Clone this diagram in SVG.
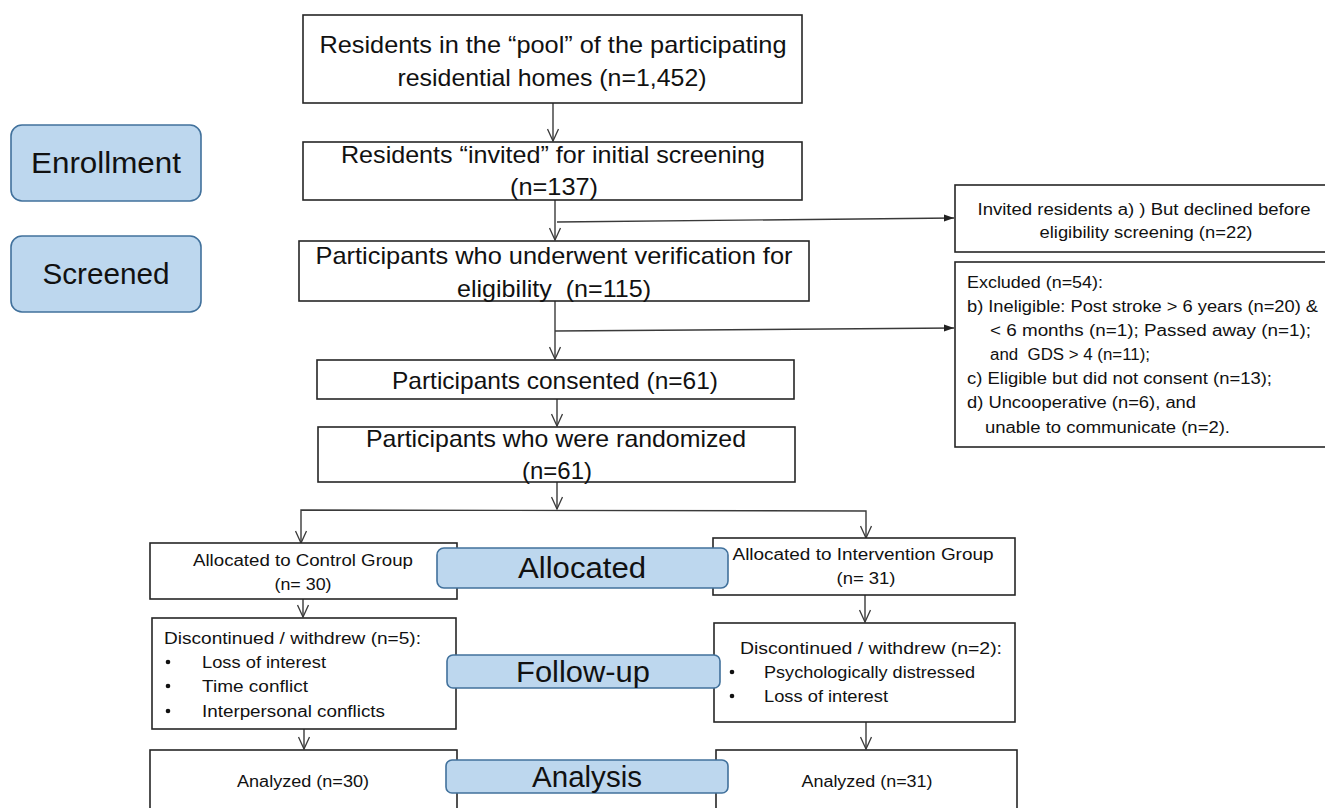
<svg xmlns="http://www.w3.org/2000/svg" width="1325" height="808" viewBox="0 0 1325 808">
<style>
.box{fill:#fff;stroke:#262626;stroke-width:1.6}
.lbl{fill:#BDD7EE;stroke:#41719C;stroke-width:1.6}
.t{font-family:"Liberation Sans",Arial,sans-serif;fill:#111;white-space:pre}
.big{font-size:24px}
.sm{font-size:16px}
.lab{font-size:29px}
.c{text-anchor:middle}
.ln{fill:none;stroke:#3a3a3a;stroke-width:1.4}
</style>
<defs>
<marker id="v" viewBox="0 0 14 12" refX="13" refY="6" markerWidth="14" markerHeight="12" markerUnits="userSpaceOnUse" orient="auto-start-reverse">
<path d="M1,0.5 L13,6 L1,11.5" fill="none" stroke="#3a3a3a" stroke-width="1.3"/>
</marker>
<marker id="f" viewBox="0 0 10 8" refX="10" refY="4" markerWidth="10" markerHeight="8" markerUnits="userSpaceOnUse" orient="auto">
<path d="M0,0.5 L10,4 L0,7.5 Z" fill="#222"/>
</marker>
</defs>

<g id="connectors">
<line class="ln" x1="553" y1="103" x2="553" y2="141" marker-end="url(#v)"/>
<line class="ln" x1="555" y1="200" x2="555" y2="240" marker-end="url(#v)"/>
<line class="ln" x1="557" y1="222" x2="954" y2="218" marker-end="url(#f)"/>
<line class="ln" x1="555" y1="301" x2="555" y2="359" marker-end="url(#v)"/>
<line class="ln" x1="555" y1="331" x2="954" y2="328" marker-end="url(#f)"/>
<line class="ln" x1="557" y1="399" x2="557" y2="426" marker-end="url(#v)"/>
<line class="ln" x1="557" y1="482" x2="557" y2="509" marker-end="url(#v)"/>
<polyline class="ln" points="301,543 301,510 866,511 866,538" marker-start="url(#v)" marker-end="url(#v)"/>
<line class="ln" x1="303" y1="599" x2="303" y2="617" marker-end="url(#v)"/>
<line class="ln" x1="865" y1="595" x2="865" y2="622" marker-end="url(#v)"/>
<line class="ln" x1="304" y1="729" x2="304" y2="749" marker-end="url(#v)"/>
<line class="ln" x1="866" y1="722" x2="866" y2="749" marker-end="url(#v)"/>
</g>

<g id="pool">
<rect class="box" x="303" y="15" width="499" height="88"/>
<text class="t big c" x="553" y="53" textLength="467" lengthAdjust="spacingAndGlyphs">Residents in the “pool” of the participating</text>
<text class="t big c" x="552" y="86" textLength="309" lengthAdjust="spacingAndGlyphs">residential homes (n=1,452)</text>
</g>

<g id="invited">
<rect class="box" x="303" y="142" width="499" height="58"/>
<text class="t big c" x="553" y="163" textLength="424" lengthAdjust="spacingAndGlyphs">Residents “invited” for initial screening</text>
<text class="t big c" x="554" y="195" textLength="88" lengthAdjust="spacingAndGlyphs">(n=137)</text>
</g>

<g id="enrollment">
<rect class="lbl" x="11" y="125" width="190" height="76" rx="11"/>
<text class="t lab c" x="106" y="173" textLength="150" lengthAdjust="spacingAndGlyphs">Enrollment</text>
</g>

<g id="screened">
<rect class="lbl" x="11" y="236" width="190" height="76" rx="11"/>
<text class="t lab c" x="106" y="284" textLength="127" lengthAdjust="spacingAndGlyphs">Screened</text>
</g>

<g id="verification">
<rect class="box" x="299" y="241" width="510" height="60"/>
<text class="t big c" x="554" y="264" textLength="477" lengthAdjust="spacingAndGlyphs">Participants who underwent verification for</text>
<text class="t big c" x="554" y="297" textLength="194" lengthAdjust="spacingAndGlyphs">eligibility  (n=115)</text>
</g>

<g id="declined">
<rect class="box" x="955" y="185" width="375" height="67"/>
<text class="t sm c" x="1144" y="215" textLength="333" lengthAdjust="spacingAndGlyphs">Invited residents a) ) But declined before</text>
<text class="t sm c" x="1146" y="238" textLength="213" lengthAdjust="spacingAndGlyphs">eligibility screening (n=22)</text>
</g>

<g id="excluded">
<rect class="box" x="955" y="262" width="375" height="185"/>
<text class="t sm" x="967" y="288" textLength="136" lengthAdjust="spacingAndGlyphs">Excluded (n=54):</text>
<text class="t sm" x="967" y="312" textLength="351" lengthAdjust="spacingAndGlyphs">b) Ineligible: Post stroke &gt; 6 years (n=20) &amp;</text>
<text class="t sm" x="990" y="336" textLength="321" lengthAdjust="spacingAndGlyphs">&lt; 6 months (n=1); Passed away (n=1);</text>
<text class="t sm" x="990" y="360" textLength="160" lengthAdjust="spacingAndGlyphs">and  GDS &gt; 4 (n=11);</text>
<text class="t sm" x="967" y="384" textLength="305" lengthAdjust="spacingAndGlyphs">c) Eligible but did not consent (n=13);</text>
<text class="t sm" x="967" y="408" textLength="229" lengthAdjust="spacingAndGlyphs">d) Uncooperative (n=6), and</text>
<text class="t sm" x="985" y="433" textLength="245" lengthAdjust="spacingAndGlyphs">unable to communicate (n=2).</text>
</g>

<g id="consented">
<rect class="box" x="317" y="360" width="477" height="39"/>
<text class="t big c" x="555" y="389" textLength="326" lengthAdjust="spacingAndGlyphs">Participants consented (n=61)</text>
</g>

<g id="randomized">
<rect class="box" x="318" y="427" width="477" height="55"/>
<text class="t big c" x="556" y="447" textLength="380" lengthAdjust="spacingAndGlyphs">Participants who were randomized</text>
<text class="t big c" x="557" y="479" textLength="70" lengthAdjust="spacingAndGlyphs">(n=61)</text>
</g>

<g id="control">
<rect class="box" x="150" y="543" width="307" height="56"/>
<text class="t sm c" x="303" y="566" textLength="220" lengthAdjust="spacingAndGlyphs">Allocated to Control Group</text>
<text class="t sm c" x="303" y="590" textLength="57" lengthAdjust="spacingAndGlyphs">(n= 30)</text>
</g>

<g id="intervention">
<rect class="box" x="713" y="538" width="302" height="57"/>
<text class="t sm c" x="863" y="560" textLength="261" lengthAdjust="spacingAndGlyphs">Allocated to Intervention Group</text>
<text class="t sm c" x="866" y="584" textLength="59" lengthAdjust="spacingAndGlyphs">(n= 31)</text>
</g>

<g id="allocated">
<rect class="lbl" x="437" y="548" width="291" height="40" rx="7"/>
<text class="t lab c" x="582" y="578" textLength="128" lengthAdjust="spacingAndGlyphs">Allocated</text>
</g>

<g id="discontinued-control">
<rect class="box" x="152" y="618" width="304" height="111"/>
<text class="t sm" x="164" y="644" textLength="257" lengthAdjust="spacingAndGlyphs">Discontinued / withdrew (n=5):</text>
<circle cx="168" cy="662" r="2.3" fill="#111"/>
<text class="t sm" x="202" y="668" textLength="124" lengthAdjust="spacingAndGlyphs">Loss of interest</text>
<circle cx="168" cy="686" r="2.3" fill="#111"/>
<text class="t sm" x="202" y="692" textLength="106" lengthAdjust="spacingAndGlyphs">Time conflict</text>
<circle cx="168" cy="711" r="2.3" fill="#111"/>
<text class="t sm" x="202" y="717" textLength="183" lengthAdjust="spacingAndGlyphs">Interpersonal conflicts</text>
</g>

<g id="discontinued-intervention">
<rect class="box" x="714" y="623" width="301" height="99"/>
<text class="t sm" x="740" y="654" textLength="262" lengthAdjust="spacingAndGlyphs">Discontinued / withdrew (n=2):</text>
<circle cx="732" cy="672" r="2.3" fill="#111"/>
<text class="t sm" x="764" y="678" textLength="211" lengthAdjust="spacingAndGlyphs">Psychologically distressed</text>
<circle cx="732" cy="696" r="2.3" fill="#111"/>
<text class="t sm" x="764" y="702" textLength="124" lengthAdjust="spacingAndGlyphs">Loss of interest</text>
</g>

<g id="followup">
<rect class="lbl" x="447" y="655" width="273" height="33" rx="6"/>
<text class="t lab c" x="583" y="682" textLength="134" lengthAdjust="spacingAndGlyphs">Follow-up</text>
</g>

<g id="analyzed-control">
<rect class="box" x="150" y="750" width="307" height="70"/>
<text class="t sm c" x="303" y="787" textLength="132" lengthAdjust="spacingAndGlyphs">Analyzed (n=30)</text>
</g>

<g id="analyzed-intervention">
<rect class="box" x="716" y="750" width="301" height="70"/>
<text class="t sm c" x="867" y="787" textLength="131" lengthAdjust="spacingAndGlyphs">Analyzed (n=31)</text>
</g>

<g id="analysis">
<rect class="lbl" x="446" y="760" width="282" height="33" rx="6"/>
<text class="t lab c" x="587" y="787" textLength="110" lengthAdjust="spacingAndGlyphs">Analysis</text>
</g>
</svg>
